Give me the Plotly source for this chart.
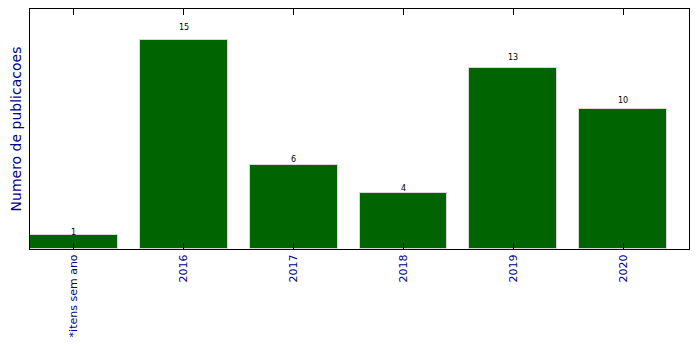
import plotly.graph_objects as go

categories = ["*itens sem ano", "2016", "2017", "2018", "2019", "2020"]
values = [1, 15, 6, 4, 13, 10]

fig = go.Figure()
fig.add_trace(go.Bar(
    x=list(range(len(categories))), y=values, width=0.8,
    marker=dict(color="#006400", line=dict(color="#d8d8d8", width=1)),
    hoverinfo="skip",
))
for i, v in enumerate(values):
    fig.add_annotation(x=i, y=v * 1.05, text=str(v), showarrow=False, yanchor="bottom",
                       yshift=-5, font=dict(size=8, color="black", family="DejaVu Sans"))

fig.update_layout(
    width=699, height=349,
    margin=dict(l=30, r=10, t=9, b=100),
    plot_bgcolor="white", paper_bgcolor="white",
    showlegend=False, bargap=0,
    font=dict(family="DejaVu Sans"),
    xaxis=dict(
        range=[-0.4, 5.6], tickmode="array", tickvals=list(range(len(categories))),
        ticktext=categories, tickangle=-90, ticks="inside", ticklen=6, tickwidth=1,
        tickcolor="black", showline=True, linecolor="black", linewidth=1,
        mirror="ticks", showgrid=False, zeroline=False,
        tickfont=dict(size=11, color="#00008b"),
    ),
    yaxis=dict(
        range=[0, 17.2], showticklabels=False, ticks="", showline=True,
        linecolor="black", linewidth=1, mirror=True, showgrid=False, zeroline=False,
        title=dict(text="Numero de publicacoes", font=dict(size=14, color="#00008b"), standoff=4),
    ),
)
fig.write_html("out.html")
